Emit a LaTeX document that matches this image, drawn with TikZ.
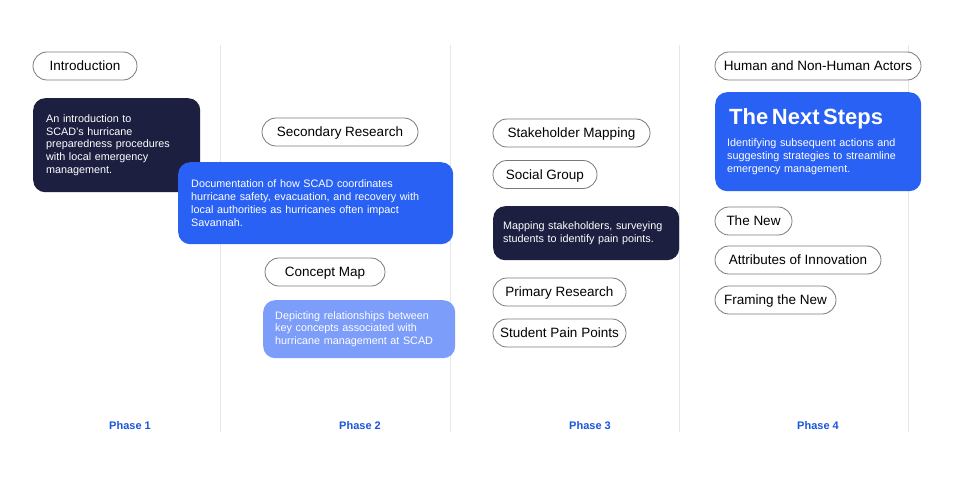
\documentclass[tikz,border=0pt]{standalone}
\usepackage{fontspec}
\setmainfont{Liberation Sans}
\definecolor{navy}{HTML}{1C1F3F}
\definecolor{bblue}{HTML}{2A61F5}
\definecolor{lblue}{HTML}{7C9DFA}
\definecolor{phasec}{HTML}{1A56DB}
\definecolor{divc}{HTML}{E6E6E6}
\definecolor{pillc}{HTML}{7A7A7A}
\tikzset{
  pill/.style={draw=pillc, line width=0.8pt, fill=white, rounded corners=14pt,
    minimum height=28pt, inner sep=0pt, text height=9.7pt, text depth=0pt,
    font=\fontsize{13.5}{16}\selectfont, text=black},
  card/.style={rounded corners=12pt, anchor=north west, inner xsep=13pt, inner ysep=0pt,
    align=left, text=white, font=\fontsize{10.8}{12.9}\selectfont},
  divider/.style={draw=divc, line width=0.8pt},
  phase/.style={text=phasec, font=\fontsize{11}{13}\selectfont\bfseries}
}
\begin{document}
\begin{tikzpicture}[x=1pt,y=-1pt]
\useasboundingbox[fill=white] (0,0) rectangle (971,484);
% dividers
\coordinate (d1t) at (220,45); \coordinate (d1b) at (220,432);
\coordinate (d2t) at (450,45); \coordinate (d2b) at (450,432);
\coordinate (d3t) at (679,45); \coordinate (d3b) at (679,432);
\coordinate (d4t) at (908,45); \coordinate (d4b) at (908,432);
\draw[divider] (d1t) -- (d1b);
\draw[divider] (d2t) -- (d2b);
\draw[divider] (d3t) -- (d3b);
\draw[divider] (d4t) -- (d4b);
% Phase 1
\node[pill, minimum width=104pt] (intro) at (85,66) {Introduction};
\node[card, fill=navy, text width=141pt, minimum height=94pt, minimum width=167pt] (b1) at (33,98)
  {An introduction to\\SCAD's hurricane\\preparedness procedures\\with local emergency\\management.};
% Phase 2
\node[pill, minimum width=156pt] (secres) at (340,132) {Secondary Research};
\node[card, fill=bblue, text width=249pt, minimum height=82pt, minimum width=275pt] (b2) at (178,162)
  {Documentation of how SCAD coordinates\\hurricane safety, evacuation, and recovery with\\local authorities as hurricanes often impact\\Savannah.};
\node[pill, minimum width=120pt] (cmap) at (325,272) {Concept Map};
\node[card, fill=lblue, inner xsep=12pt, text width=168pt, minimum height=58pt, minimum width=192pt] (b3) at (263,300)
  {Depicting relationships between\\key concepts associated with\\hurricane management at SCAD};
% Phase 3
\node[pill, minimum width=157pt] (stake) at (571.5,133) {Stakeholder Mapping};
\node[pill, minimum width=104pt] (social) at (545,174.5) {Social Group};
\node[card, fill=navy, inner xsep=10pt, text width=166pt, minimum height=54pt, minimum width=186pt] (b4) at (493,206)
  {Mapping stakeholders, surveying\\students to identify pain points.};
\node[pill, minimum width=133pt] (primres) at (559.5,292) {Primary Research};
\node[pill, minimum width=133pt] (pain) at (559.5,333) {Student Pain Points};
% Phase 4
\node[pill, minimum width=206pt] (actors) at (818,66) {Human and Non-Human Actors};
\node[card, fill=bblue, inner xsep=12pt, text width=182pt, minimum height=99pt, minimum width=206pt] (b5) at (715,92)
  {\hspace*{2pt}{\fontsize{22}{24}\selectfont\bfseries The Next Steps}\\[9pt]Identifying subsequent actions and\\suggesting strategies to streamline\\emergency management.};
\node[pill, minimum width=77pt] (thenew) at (753.5,221) {The New};
\node[pill, minimum width=166pt] (attr) at (798,260) {Attributes of Innovation};
\node[pill, minimum width=121pt] (framing) at (775.5,300) {Framing the New};
% phase labels
\node[phase] (p1) at (130,426) {Phase 1};
\node[phase] (p2) at (360,426) {Phase 2};
\node[phase] (p3) at (590,426) {Phase 3};
\node[phase] (p4) at (818,426) {Phase 4};
\end{tikzpicture}
\end{document}
